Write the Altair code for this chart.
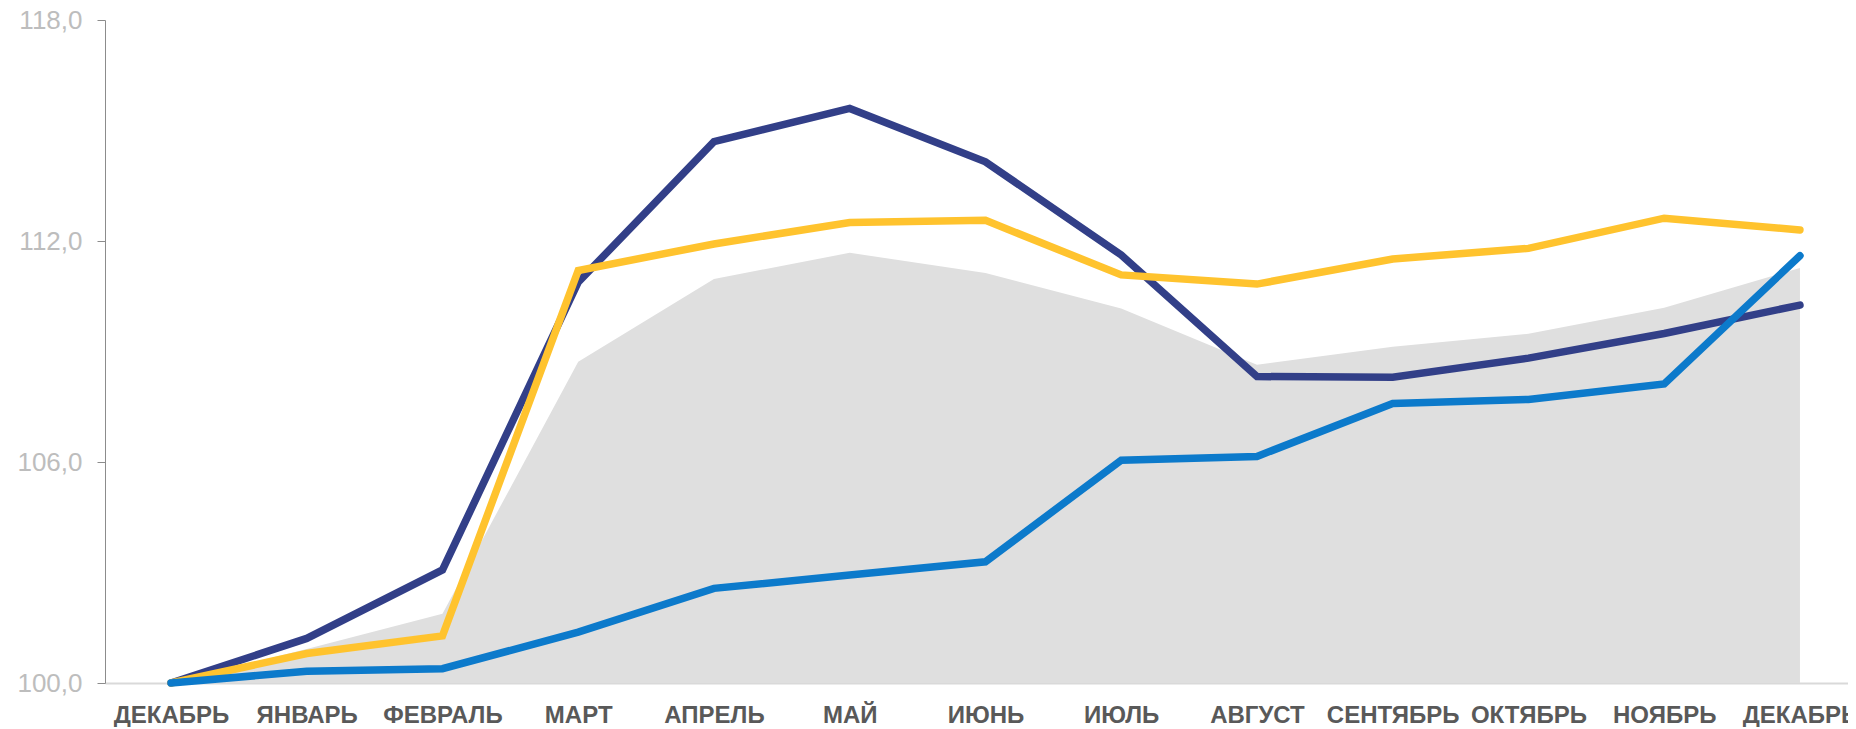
import json
import altair as alt
import pandas as pd

months = ["ДЕКАБРЬ", "ЯНВАРЬ", "ФЕВРАЛЬ", "МАРТ", "АПРЕЛЬ", "МАЙ", "ИЮНЬ",
          "ИЮЛЬ", "АВГУСТ", "СЕНТЯБРЬ", "ОКТЯБРЬ", "НОЯБРЬ", "ДЕКАБРЬ"]
navy = [100.0, 101.21, 103.07, 110.88, 114.70, 115.60, 114.15, 111.62, 108.32,
        108.30, 108.82, 109.49, 110.26]
yellow = [100.0, 100.80, 101.28, 111.20, 111.92, 112.50, 112.56, 111.08, 110.83,
          111.51, 111.80, 112.62, 112.30]
blue = [100.0, 100.32, 100.39, 101.38, 102.57, 102.93, 103.29, 106.05, 106.15,
        107.59, 107.70, 108.12, 111.60]
gray = [100.0, 100.92, 101.88, 108.72, 110.97, 111.68, 111.13, 110.17, 108.64,
        109.13, 109.48, 110.19, 111.27]
y_ticks = [100, 106, 112, 118]
y_base = 100

series = {"navy": navy, "yellow": yellow, "blue": blue, "gray": gray}
colors = {"navy": "#323F88", "yellow": "#FFC32E", "blue": "#0C7ACB", "gray": "#DFDFDF"}

rows = []
for name, vals in series.items():
    for i, v in enumerate(vals):
        rows.append({"i": i, "month": months[i], "series": name, "v": v})
df = pd.DataFrame(rows)

label_arr = json.dumps(months, ensure_ascii=False)

x_enc = alt.X(
    "i:Q",
    scale=alt.Scale(domain=[-0.486, 12.354], nice=False, zero=False),
    axis=alt.Axis(
        orient="bottom",
        values=list(range(len(months))),
        labelExpr=f"{label_arr}[datum.value]",
        ticks=False,
        grid=False,
        title=None,
        domainColor="#D9D9D9",
        domainWidth=2,
        labelFont="Liberation Sans",
        labelFontWeight="bold",
        labelFontSize=24,
        labelColor="#595959",
        labelPadding=20,
        labelOverlap=False,
        labelFlush=False,
    ),
)
y_enc = alt.Y(
    "v:Q",
    scale=alt.Scale(domain=[100, 118], nice=False, zero=False),
    axis=alt.Axis(
        orient="left",
        values=y_ticks,
        labelExpr="replace(format(datum.value, '.1f'), '.', ',')",
        grid=False,
        title=None,
        domainColor="#8C8C8C",
        domainWidth=1,
        tickColor="#8C8C8C",
        tickSize=8,
        tickWidth=1,
        labelFont="Liberation Sans",
        labelFontSize=26,
        labelColor="#BDBDBD",
        labelPadding=15,
    ),
)

base = alt.Chart(df)

area = base.transform_filter(alt.datum.series == "gray").mark_area(
    color=colors["gray"]
).encode(x=x_enc, y=y_enc, y2=alt.Y2(datum=y_base))

def line(name):
    return base.transform_filter(alt.datum.series == name).mark_line(
        color=colors[name], strokeWidth=7.5, strokeCap="round", strokeJoin="miter"
    ).encode(x=x_enc, y=y_enc)

chart = alt.layer(area, line("navy"), line("yellow"), line("blue")).properties(
    width=1743,
    height=663,
    autosize=alt.AutoSizeParams(type="none"),
    padding={"left": 97, "top": 12, "right": 0, "bottom": 44},
).configure(background="white").configure_view(stroke=None)

chart.save("out.html", embed_options={"renderer": "svg", "actions": False})
